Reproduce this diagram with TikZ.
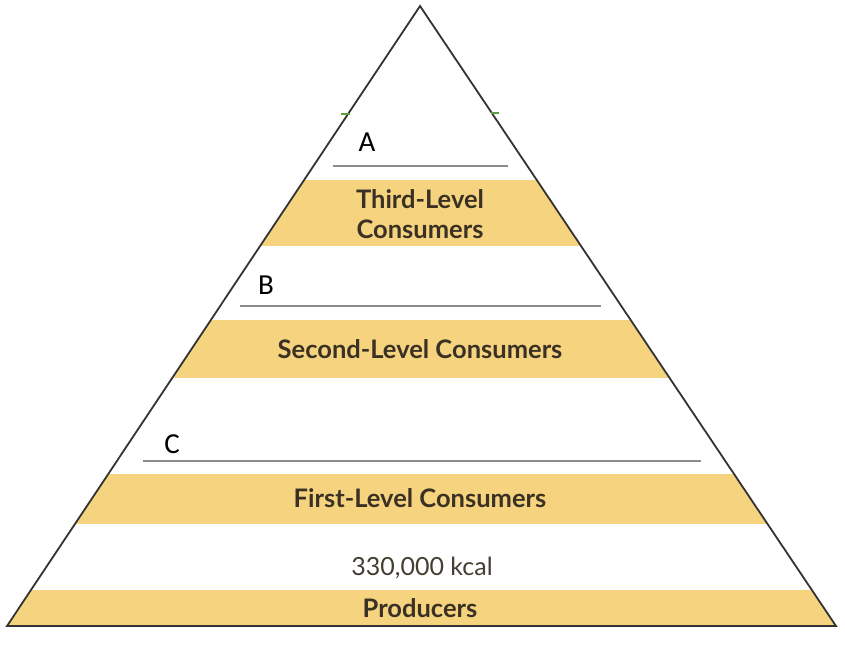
\documentclass[tikz,border=0pt]{standalone}
\usepackage{fontspec}
\setmainfont{Lato}
\newfontfamily\labfont{Carlito}
\definecolor{band}{HTML}{F6D47F}
\definecolor{txt}{HTML}{3A3124}
\definecolor{rule}{HTML}{8C8C8C}
\definecolor{edge}{HTML}{333333}
\definecolor{tick}{HTML}{5E9E3C}
\begin{document}
\begin{tikzpicture}[x=1pt,y=-1pt,
  bandtext/.style={font=\fontsize{25.5}{30}\selectfont\bfseries, text=txt, align=center, inner sep=0pt},
  plaintext/.style={font=\fontsize{25}{30}\selectfont, text=txt!85!gray, inner sep=0pt},
  letter/.style={font=\labfont\fontsize{29}{33}\selectfont, text=black, inner sep=0pt},
  answerline/.style={draw=rule, line width=1.3pt},
  tickmark/.style={draw=tick, line width=1.5pt}]
\useasboundingbox[fill=white] (0,0) rectangle (845,645);
\coordinate (apex) at (420,6);
\coordinate (bl) at (7,626);
\coordinate (br) at (836,626);
\begin{scope}
\clip (apex) -- (bl) -- (br) -- cycle;
\fill[band] (0,180) rectangle (845,246);
\fill[band] (0,320) rectangle (845,378);
\fill[band] (0,474) rectangle (845,524);
\fill[band] (0,590) rectangle (845,627);
\end{scope}
\draw[edge, line width=1.8pt, line join=miter] (apex) -- (bl) -- (br) -- cycle;
% green ticks
\coordinate (tl1) at (341,114); \coordinate (tl2) at (350,114);
\coordinate (tr1) at (491,113); \coordinate (tr2) at (499,113);
\draw[tickmark] (tl1) -- (tl2);
\draw[tickmark] (tr1) -- (tr2);
% answer lines
\coordinate (a1) at (333,166); \coordinate (a2) at (508,166);
\coordinate (b1) at (240,306); \coordinate (b2) at (601,306);
\coordinate (c1) at (143,461); \coordinate (c2) at (701,461);
\draw[answerline] (a1) -- (a2);
\draw[answerline] (b1) -- (b2);
\draw[answerline] (c1) -- (c2);
\node[letter] (la) at (367,142) {A};
\node[letter] (lb) at (266,285) {B};
\node[letter] (lc) at (172,444) {C};
\node[bandtext] (third) at (420,214) {Third-Level\\Consumers};
\node[bandtext] (second) at (420,349) {Second-Level Consumers};
\node[bandtext] (first) at (420,498) {First-Level Consumers};
\node[plaintext] (kcal) at (422,568) {330,000 kcal};
\node[bandtext] (prod) at (420,608) {Producers};
\end{tikzpicture}
\end{document}
